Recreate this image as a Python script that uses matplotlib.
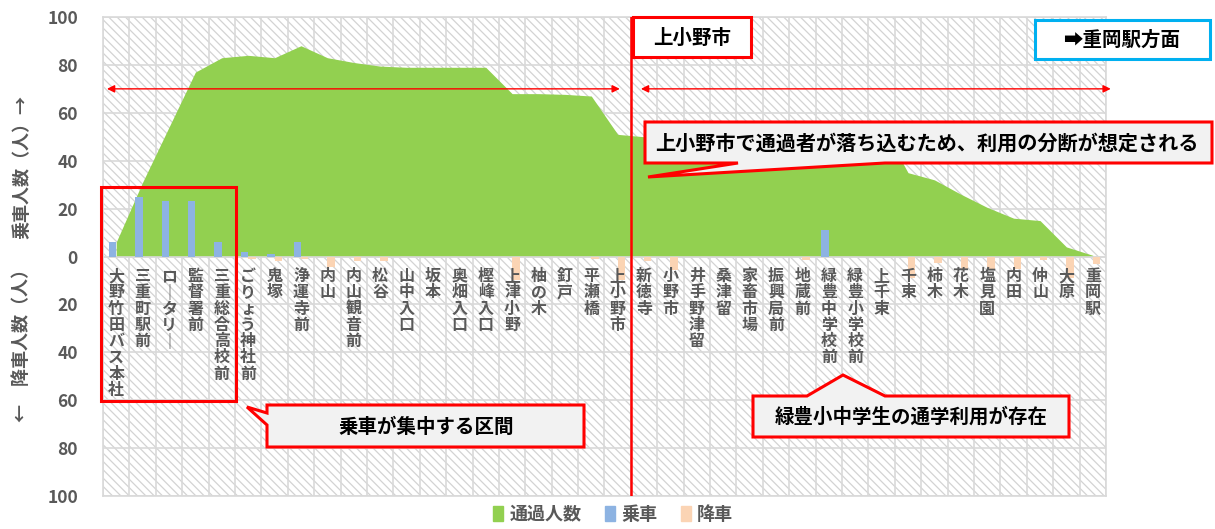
import numpy as np
import matplotlib
matplotlib.use("Agg")
import matplotlib.pyplot as plt
from matplotlib.patches import Polygon, Rectangle, Patch
from matplotlib.ticker import FuncFormatter

plt.rcParams['font.family'] = ['Noto Sans CJK JP', 'DejaVu Sans']

# ---------------- data ----------------
stations = ['大野竹田バス本社', '三重町駅前', 'ロータリー', '監督署前', '三重総合高校前',
            'ごりょう神社前', '鬼塚', '浄運寺前', '内山', '内山観音前', '松谷', '山中入口',
            '坂本', '奥畑入口', '樫峰入口', '上津小野', '柚の木', '釘戸', '平瀬橋', '上小野市',
            '新徳寺', '小野市', '井手野津留', '桑津留', '家畜市場', '振興局前', '地蔵前',
            '緑豊中学校前', '緑豊小学校前', '上千束', '千束', '柿木', '花木', '塩見園',
            '内田', '仲山', '大原', '重岡駅']
passing = [6, 31, 54, 77, 83, 84, 83, 88, 83, 81, 79.5, 79, 79, 79, 79, 68, 68, 67.7, 67, 51,
           50, 46, 46, 46, 46, 46, 45, 55, 55, 55, 35, 32, 26, 20.5, 16, 15, 4, 0.5]
boarding = [6, 25, 23, 23, 6, 2, 1, 6, 0, 0, 0, 0, 0, 0, 0, 0, 0, 0, 0, 0,
            0, 0, 0, 0, 0, 0, 0, 11, 0, 0, 0, 0, 0, 0, 0, 0, 0, 0]
alighting = [0, 0, 0, 0, 0, 1, 2, 1, 4.5, 2, 2, 0, 0, 0, 0, 10, 0, 0, 1, 10,
             2, 5.5, 0, 0, 0, 0, 1.5, 0, 0, 0, 9, 2.7, 5.4, 5.5, 5.4, 1.5, 9, 3]
legend_labels = ['通過人数', '乗車', '降車']
yticks = [-100, -80, -60, -40, -20, 0, 20, 40, 60, 80, 100]

# ---------------- style ----------------
GREEN = '#92D050'
BLUE = '#8DB3E2'
PEACH = '#FBD4B4'
GRID = '#D9D9D9'
TXT = '#595959'

W, H = 1215, 529
fig = plt.figure(figsize=(W / 100, H / 100), dpi=100)
ax = fig.add_axes([103 / W, 1 - 496 / H, (1106 - 103) / W, (496 - 17) / H])

n = len(stations)
x = np.arange(n)
ax.set_xlim(-0.5, n - 0.5)
ax.set_ylim(-100, 100)

# hatched background
ax.set_facecolor('white')
plt.rcParams['hatch.linewidth'] = 0.9
bg = Rectangle((0, 0), 1, 1, transform=ax.transAxes, facecolor='white',
               edgecolor='#D3D3D3', hatch='\\\\\\\\', linewidth=0, zorder=0.1)
ax.add_patch(bg)

# grid
ax.set_yticks(yticks)
ax.yaxis.set_major_formatter(FuncFormatter(lambda v, p: f'{abs(int(v))}'))
ax.set_xticks(np.arange(-0.5, n, 1))
ax.set_xticklabels([])
ax.grid(True, axis='both', color=GRID, lw=1.2, zorder=0.5)
ax.set_axisbelow(True)
ax.tick_params(axis='both', length=0)
ax.tick_params(axis='y', pad=18, labelsize=12.5, labelcolor=TXT)
for lab in ax.get_yticklabels():
    lab.set_fontweight('bold')
for s in ax.spines.values():
    s.set_color(GRID)
    s.set_linewidth(1.2)

# data marks
ax.fill_between(x, 0, passing, color=GREEN, lw=0, zorder=1)
ax.axhline(0, color=GRID, lw=1.2, zorder=1.1)
bw = 0.28
ax.bar(x - bw / 2, boarding, width=bw, color=BLUE, zorder=2)
ax.bar(x + bw / 2, [-a for a in alighting], width=bw, color=PEACH, zorder=2)

# vertical category labels
for i, name in enumerate(stations):
    s = '\n'.join(name.replace('ー', '｜'))
    ax.text(i, -4.8, s, ha='center', va='top', fontsize=11.5, fontweight='bold',
            color=TXT, linespacing=1.02, zorder=5, clip_on=False)

# y-axis labels
fig.text(22 / W, 1 - 167 / H, '乗車人数（人）→', rotation=90, ha='center', va='center',
         fontsize=13, fontweight='bold', color=TXT)
fig.text(22 / W, 1 - 341 / H, '←　降車人数（人）', rotation=90, ha='center', va='center',
         fontsize=13, fontweight='bold', color=TXT)

# legend
handles = [Patch(color=GREEN), Patch(color=BLUE), Patch(color=PEACH)]
leg = fig.legend(handles, legend_labels, loc='center', bbox_to_anchor=(613 / W, 1 - 514 / H),
                 ncol=3, frameon=False, handlelength=0.55, handleheight=0.9,
                 handletextpad=0.35, columnspacing=1.3,
                 prop={'size': 13, 'weight': 'bold'})
for t in leg.get_texts():
    t.set_color(TXT)

# ---------------- annotations ----------------
def P(px, py):
    return (px / W, 1 - py / H)


def poly(points, fc, ec, lw=2.2):
    pg = Polygon([P(*p) for p in points], closed=True, transform=fig.transFigure,
                 facecolor=fc, edgecolor=ec, linewidth=lw, joinstyle='miter')
    fig.add_artist(pg)


split = stations.index('上小野市') + 0.5
ax.axvline(split, color='red', lw=1.8, zorder=6)

arrow_kw = dict(arrowstyle='<|-|>', color='red', lw=1.0, mutation_scale=11,
                shrinkA=0, shrinkB=0)
ax.annotate('', xy=(-0.35, 70), xytext=(split - 0.42, 70), arrowprops=arrow_kw,
            annotation_clip=False, zorder=6)
ax.annotate('', xy=(split + 0.38, 70), xytext=(n - 0.32, 70), arrowprops=arrow_kw,
            annotation_clip=False, zorder=6)

# 上小野市 box
poly([(633, 17), (751, 17), (751, 57), (633, 57)], 'white', 'red')
fig.text(*P(692, 38), '上小野市', ha='center', va='center', fontsize=14,
         fontweight='bold', color='black')

# 重岡駅方面 box
poly([(1035, 20), (1210, 20), (1210, 59), (1035, 59)], 'white', '#00B0F0')
fig.text(*P(1122, 40), '➡重岡駅方面', ha='center', va='center', fontsize=14,
         fontweight='bold', color='black',
         family=['Noto Sans CJK JP', 'DejaVu Sans'])

# top callout
poly([(645, 122), (1212, 122), (1212, 163), (885, 163), (648, 177), (738, 163), (645, 163)],
     '#F2F2F2', 'red')
fig.text(*P(927, 143), '上小野市で通過者が落ち込むため、利用の分断が想定される',
         ha='center', va='center', fontsize=14.5, fontweight='bold', color='black')

# boarding cluster frame
poly([(101, 187), (236, 187), (236, 401), (101, 401)], 'none', 'red')

# left-bottom callout
poly([(267, 405), (584, 405), (584, 447), (267, 447), (267, 425), (247, 407), (267, 413)],
     '#F2F2F2', 'red')
fig.text(*P(426, 427), '乗車が集中する区間', ha='center', va='center', fontsize=14,
         fontweight='bold', color='black')

# right-bottom callout
poly([(753, 396), (807, 396), (843, 375), (885, 396), (1069, 396), (1069, 437), (753, 437)],
     '#F2F2F2', 'red')
fig.text(*P(911, 417), '緑豊小中学生の通学利用が存在', ha='center', va='center', fontsize=14,
         fontweight='bold', color='black')

fig.savefig('out.png', dpi=100)
